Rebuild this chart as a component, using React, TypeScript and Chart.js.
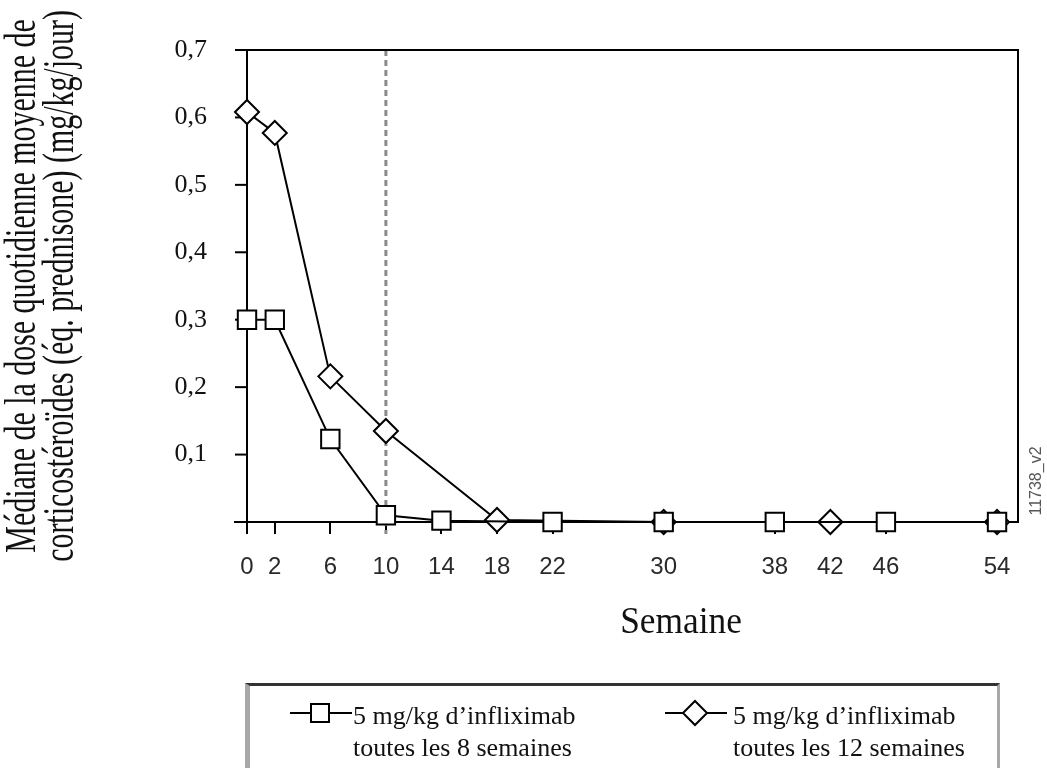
import React, { useEffect, useRef } from 'react';
import { Chart, registerables } from 'chart.js';

Chart.register(...registerables);

// ---- data ----
const weeks8 = [0, 2, 6, 10, 14, 22, 30, 38, 46, 54];
const dose8 = [0.3, 0.3, 0.123, 0.01, 0.002, 0, 0, 0, 0, 0];
const weeks12 = [0, 2, 6, 10, 18, 30, 42, 54];
const dose12 = [0.608, 0.577, 0.216, 0.135, 0.003, 0, 0, 0];
const xTickValues = [0, 2, 6, 10, 14, 18, 22, 30, 38, 42, 46, 54];
const yTickValues = [0, 0.1, 0.2, 0.3, 0.4, 0.5, 0.6, 0.7];
const seriesNames = [
  '5 mg/kg d’infliximab toutes les 8 semaines',
  '5 mg/kg d’infliximab toutes les 12 semaines',
];
const legendLines8 = ['5 mg/kg d’infliximab', 'toutes les 8 semaines'];
const legendLines12 = ['5 mg/kg d’infliximab', 'toutes les 12 semaines'];
const yTitleLines = [
  'Médiane de la dose quotidienne moyenne de',
  'corticostéroïdes (éq. prednisone) (mg/kg/jour)',
];
const xTitle = 'Semaine';
const figureCode = '11738_v2';
const markerWeek = 10;
const xMin = -0.864;
const xMax = 55.51;
const yMin = 0;
const yMax = 0.7;

const SERIF = '"Liberation Serif", "Times New Roman", serif';
const SANS = '"Liberation Sans", Arial, sans-serif';

const decorPlugin = {
  id: 'decor',
  beforeDatasetsDraw(chart: any) {
    const { ctx, chartArea, scales } = chart;
    const { left, right, top, bottom } = chartArea;
    const x = scales.x;
    const y = scales.y;
    ctx.save();
    // dashed vertical reference line
    const xm = x.getPixelForValue(markerWeek);
    ctx.strokeStyle = '#8a8a8a';
    ctx.lineWidth = 3;
    ctx.setLineDash([6, 4]);
    ctx.beginPath();
    ctx.moveTo(xm, top);
    ctx.lineTo(xm, bottom + 12);
    ctx.stroke();
    ctx.setLineDash([]);
    // frame: top and right
    ctx.strokeStyle = '#000';
    ctx.lineWidth = 2;
    ctx.beginPath();
    ctx.moveTo(left, top);
    ctx.lineTo(right, top);
    ctx.lineTo(right, bottom);
    ctx.stroke();
    // y axis line at week 0
    const x0 = x.getPixelForValue(0);
    ctx.beginPath();
    ctx.moveTo(x0, top);
    ctx.lineTo(x0, bottom);
    ctx.stroke();
    // y tick marks between left edge and the axis
    yTickValues.forEach((v) => {
      if (v === 0) return;
      const py = y.getPixelForValue(v);
      ctx.beginPath();
      ctx.moveTo(left, py);
      ctx.lineTo(x0, py);
      ctx.stroke();
    });
    ctx.restore();
  },
  afterDraw(chart: any) {
    const { ctx, chartArea } = chart;
    const cy = (chartArea.top + chartArea.bottom) / 2;
    ctx.save();
    // y axis title (condensed serif, rotated)
    ctx.fillStyle = '#111';
    ctx.font = `44px ${SERIF}`;
    ctx.textAlign = 'center';
    ctx.textBaseline = 'alphabetic';
    ctx.save();
    ctx.translate(35, cy);
    ctx.rotate(-Math.PI / 2);
    ctx.scale(0.68, 1);
    ctx.fillText(yTitleLines[0], 0, 0);
    ctx.fillText(yTitleLines[1], 0, 38);
    ctx.restore();
    // x axis title
    ctx.save();
    ctx.font = `38px ${SERIF}`;
    ctx.translate(681, 633);
    ctx.scale(0.93, 1);
    ctx.fillText(xTitle, 0, 0);
    ctx.restore();
    // figure code
    ctx.save();
    ctx.font = `16px ${SANS}`;
    ctx.fillStyle = '#555';
    ctx.textBaseline = 'middle';
    ctx.translate(1037, 481);
    ctx.rotate(-Math.PI / 2);
    ctx.fillText(figureCode, 0, 0);
    ctx.restore();
    ctx.restore();
  },
};

function LegendMarker({ kind }: { kind: 'square' | 'diamond' }) {
  return (
    <svg width={62} height={28} style={{ display: 'block' }}>
      <line x1={0} y1={14} x2={62} y2={14} stroke="#000" strokeWidth={2} />
      {kind === 'square' ? (
        <rect x={21} y={5} width={18} height={18} fill="#fff" stroke="#000" strokeWidth={2} />
      ) : (
        <polygon points="30,2 42,14 30,26 18,14" fill="#fff" stroke="#000" strokeWidth={2} />
      )}
    </svg>
  );
}

export default function App() {
  const canvasRef = useRef<HTMLCanvasElement | null>(null);

  useEffect(() => {
    const canvas = canvasRef.current;
    if (!canvas) return;
    const chart = new Chart(canvas, {
      type: 'line',
      data: {
        datasets: [
          {
            label: seriesNames[0],
            data: weeks8.map((w, i) => ({ x: w, y: dose8[i] })),
            borderColor: '#000',
            borderWidth: 2,
            pointStyle: 'rect',
            pointRadius: 13,
            pointBorderWidth: 2,
            pointBorderColor: '#000',
            pointBackgroundColor: '#fff',
            tension: 0,
            clip: false,
          } as any,
          {
            label: seriesNames[1],
            data: weeks12.map((w, i) => ({ x: w, y: dose12[i] })),
            borderColor: '#000',
            borderWidth: 2,
            pointStyle: 'rectRot',
            pointRadius: 12,
            pointBorderWidth: 2,
            pointBorderColor: '#000',
            pointBackgroundColor: '#fff',
            tension: 0,
            clip: false,
          } as any,
        ],
      },
      options: {
        responsive: false,
        animation: false,
        devicePixelRatio: 1,
        layout: { padding: { left: 0, top: 50, right: 29, bottom: 186 } },
        plugins: {
          legend: { display: false },
          tooltip: { enabled: false },
        },
        scales: {
          x: {
            type: 'linear',
            min: xMin,
            max: xMax,
            afterBuildTicks: (s: any) => {
              s.ticks = xTickValues.map((v) => ({ value: v }));
            },
            afterFit: (s: any) => {
              s.height = 60;
            },
            ticks: {
              autoSkip: false,
              maxRotation: 0,
              padding: 19,
              color: '#2a2a2a',
              font: { family: SANS, size: 24 },
              callback: (v: any) => String(v),
            },
            grid: {
              drawOnChartArea: false,
              drawTicks: true,
              tickLength: 12,
              color: '#000',
              lineWidth: 2,
            },
            border: { display: true, color: '#000', width: 2 },
          },
          y: {
            type: 'linear',
            min: yMin,
            max: yMax,
            afterBuildTicks: (s: any) => {
              s.ticks = yTickValues.map((v) => ({ value: v }));
            },
            afterFit: (s: any) => {
              s.width = 235;
            },
            ticks: {
              padding: 28,
              color: '#111',
              font: { family: SERIF, size: 26 },
              callback: (v: any) => (Number(v) === 0 ? '' : Number(v).toFixed(1).replace('.', ',')),
            },
            grid: { display: false, drawTicks: false },
            border: { display: false },
          },
        },
      } as any,
      plugins: [decorPlugin],
    });
    return () => chart.destroy();
  }, []);

  const textStyle: React.CSSProperties = {
    position: 'absolute',
    top: 700,
    fontFamily: SERIF,
    fontSize: 26,
    lineHeight: '32px',
    color: '#111',
    whiteSpace: 'nowrap',
  };

  return (
    <div
      style={{
        position: 'absolute',
        left: 0,
        top: 0,
        width: 1047,
        height: 768,
        overflow: 'hidden',
        background: '#fff',
      }}
    >
      <canvas
        ref={canvasRef}
        width={1047}
        height={768}
        style={{ position: 'absolute', left: 0, top: 0, width: 1047, height: 768 }}
      />
      <div
        style={{
          position: 'absolute',
          left: 245,
          top: 683,
          width: 755,
          height: 120,
          boxSizing: 'border-box',
          borderTop: '3px solid #333',
          borderLeft: '5px solid #a8a8a8',
          borderRight: '3px solid #a8a8a8',
        }}
      />
      <div style={{ position: 'absolute', left: 290, top: 699 }}>
        <LegendMarker kind="square" />
      </div>
      <div style={{ ...textStyle, left: 353 }}>
        {legendLines8[0]}
        <br />
        {legendLines8[1]}
      </div>
      <div style={{ position: 'absolute', left: 665, top: 699 }}>
        <LegendMarker kind="diamond" />
      </div>
      <div style={{ ...textStyle, left: 733 }}>
        {legendLines12[0]}
        <br />
        {legendLines12[1]}
      </div>
    </div>
  );
}
